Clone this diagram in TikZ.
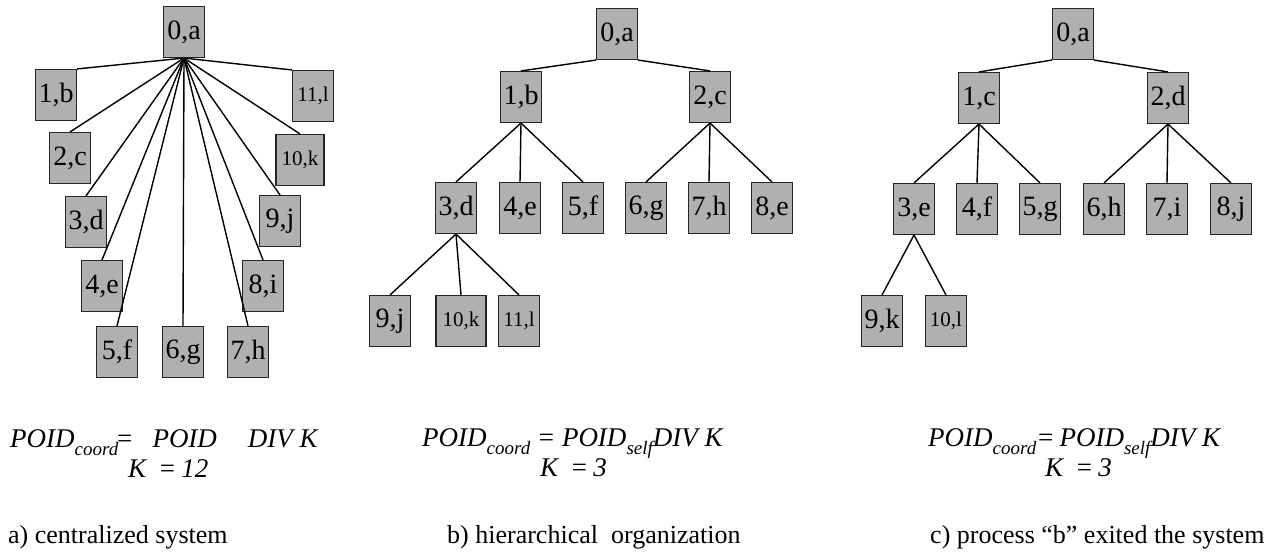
\documentclass[tikz,border=0pt]{standalone}
\usepackage{fontspec}
\setmainfont{Liberation Serif}
\newcommand\subtx[1]{\raisebox{-8pt}{\fontsize{19}{19}\selectfont #1}}
\begin{document}
\begin{tikzpicture}[x=1pt,y=-1pt,
  pbox/.style={draw=black!85,fill=gray!62,line width=1.1pt,minimum width=41pt,minimum height=51pt,inner sep=0pt,font=\fontsize{28}{28}\selectfont},
  wbox/.style={pbox,font=\fontsize{21}{21}\selectfont},
  edge/.style={line width=1.4pt,black},
  formula/.style={font=\fontsize{27}{27}\selectfont\itshape,inner sep=0pt,anchor=base west},
  caption/.style={font=\fontsize{26}{26}\selectfont,inner sep=0pt,anchor=base west}]
\useasboundingbox (0,0) rectangle (1288,554);
% ---------- panel a ----------
\node[pbox] (a0) at (184,32) {0,a};
\node[pbox] (a1) at (56,95) {1,b};
\node[wbox] (a11) at (313,96) {11,l};
\node[pbox] (a2) at (70,158) {2,c};
\node[wbox,minimum width=48pt] (a10) at (300,160) {10,k};
\node[pbox] (a3) at (86,222) {3,d};
\node[pbox] (a9) at (280,221) {9,j};
\node[pbox] (a4) at (102,286) {4,e};
\node[pbox] (a8) at (263,286) {8,i};
\node[pbox] (a5) at (117,352) {5,f};
\node[pbox] (a6) at (183,352) {6,g};
\node[pbox] (a7) at (248,352) {7,h};
\coordinate (ah) at (a0.south);
\draw[edge] (ah) -- (a1.north east);
\draw[edge] (ah) -- (a11.north west);
\foreach \c in {a2,a3,a4,a5,a6,a7,a8,a9,a10} \draw[edge] (ah) -- (\c.north);
% ---------- panel b ----------
\node[pbox] (b0) at (617,34) {0,a};
\node[pbox] (b1) at (521,97) {1,b};
\node[pbox] (b2) at (710,97) {2,c};
\node[pbox] (b3) at (456,208) {3,d};
\node[pbox] (b4) at (520,208) {4,e};
\node[pbox] (b5) at (583,208) {5,f};
\node[pbox] (b6) at (646,208) {6,g};
\node[pbox] (b7) at (709,208) {7,h};
\node[pbox] (b8) at (772,208) {8,e};
\node[pbox] (b9) at (390,321) {9,j};
\node[wbox,minimum width=50pt] (b10) at (461,321) {10,k};
\node[wbox] (b11) at (519,321) {11,l};
\draw[edge] (b0.south west) -- (b1.north);
\draw[edge] (b0.south east) -- (b2.north);
\foreach \c in {b3,b4,b5} \draw[edge] (b1.south) -- (\c.north);
\foreach \c in {b6,b7,b8} \draw[edge] (b2.south) -- (\c.north);
\foreach \c in {b9,b10,b11} \draw[edge] (b3.south) -- (\c.north);
% ---------- panel c ----------
\node[pbox] (c0) at (1073,34) {0,a};
\node[pbox] (c1) at (979,98) {1,c};
\node[pbox] (c2) at (1168,98) {2,d};
\node[pbox] (c3) at (914,209) {3,e};
\node[pbox] (c4) at (977,209) {4,f};
\node[pbox] (c5) at (1040,209) {5,g};
\node[pbox] (c6) at (1104,209) {6,h};
\node[pbox] (c7) at (1167,209) {7,i};
\node[pbox] (c8) at (1231,209) {8,j};
\node[pbox] (c9) at (882,321) {9,k};
\node[wbox] (c10) at (946,321) {10,l};
\draw[edge] (c0.south west) -- (c1.north);
\draw[edge] (c0.south east) -- (c2.north);
\foreach \c in {c3,c4,c5} \draw[edge] (c1.south) -- (\c.north);
\foreach \c in {c6,c7,c8} \draw[edge] (c2.south) -- (\c.north);
\foreach \c in {c9,c10} \draw[edge] (c3.south) -- (\c.north);
% ---------- formulas ----------
\node[formula] (fa) at (10,447) {POID\subtx{coord}\hspace{-3pt}=\hspace{19pt}POID\hspace{31pt}DIV K};
\node[formula] (ka) at (128,477) {K\hspace{12pt}=\hspace{5pt}12};
\node[formula] (fb) at (422,446) {POID\subtx{coord} = POID\subtx{self}DIV K};
\node[formula] (kb) at (540,476) {K\hspace{12pt}=\hspace{5pt}3};
\node[formula] (fc) at (928,446) {POID\subtx{coord}=\hspace{5pt}POID\subtx{self}DIV K};
\node[formula] (kc) at (1045,476) {K\hspace{12pt}=\hspace{5pt}3};
% ---------- captions ----------
\node[caption] (ca) at (8,543) {a) centralized system};
\node[caption] (cb) at (447,543) {b) hierarchical \ organization};
\node[caption] (cc) at (930,543) {c) process “b” exited the system};
\end{tikzpicture}
\end{document}
